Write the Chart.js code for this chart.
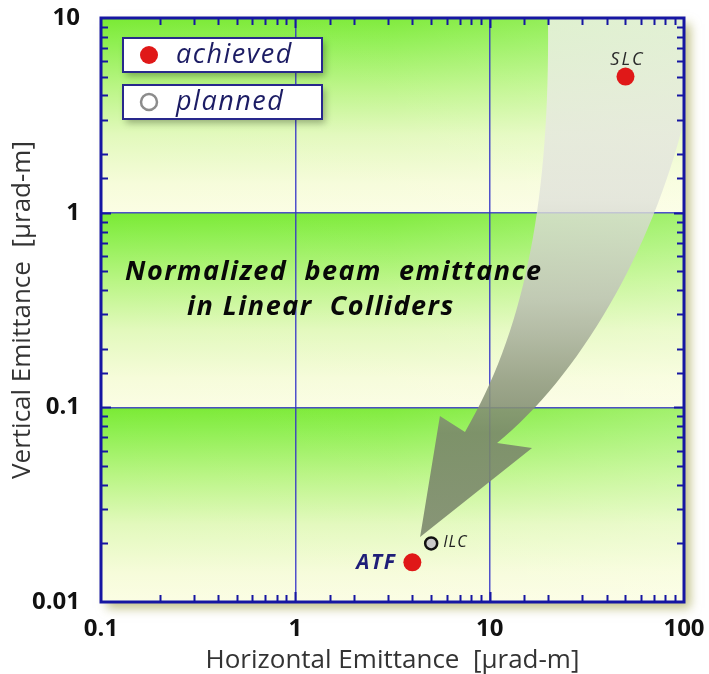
<!DOCTYPE html>
<html><head><meta charset="utf-8">
<script src="https://cdn.jsdelivr.net/npm/chart.js@4/dist/chart.umd.min.js"></script>
<style>html,body{margin:0;padding:0;background:#fff}canvas{display:block}</style>
</head><body>
<canvas id="c" width="709" height="674"></canvas>
<script>
// ---- data ----
const seriesNames = ['achieved', 'planned'];
const achievedNames = ['SLC', 'ATF'];
const achievedX = [50, 4];
const achievedY = [5, 0.016];
const plannedNames = ['ILC'];
const plannedX = [5];
const plannedY = [0.02];
const xTickValues = [0.1, 1, 10, 100];
const yTickValues = [0.01, 0.1, 1, 10];
const xTitle = 'Horizontal Emittance  [μrad-m]';
const yTitle = 'Vertical Emittance  [μrad-m]';
const titleLines = ['Normalized  beam  emittance', 'in Linear  Colliders'];
// decorative arrow outline, in decades (log10 of axis values)
const arrowLeftEdge = [[1.300, 1], [1.3105, 0.065], [1.182, -0.603], [0.873, -1.127]];
const arrowHead = [[0.744, -1.045], [0.642, -1.666], [1.218, -1.209], [1.038, -1.183]];
const arrowRightEdge = [[1.568, -0.757], [2.031, 0.168], [2.082, 1]];

const FONT = '"Open Sans", "Noto Sans", sans-serif';
const BLUE = '#1616a2';
function isDecade(v) { const l = Math.log10(v); return Math.abs(l - Math.round(l)) < 1e-6; }

const deco = {
  id: 'deco',
  beforeDraw(chart) {
    const { ctx, chartArea: a, scales: { y } } = chart;
    ctx.save();
    ctx.shadowColor = 'rgba(150,150,50,0.6)';
    ctx.shadowBlur = 10; ctx.shadowOffsetX = 6; ctx.shadowOffsetY = 6;
    ctx.fillStyle = '#fbfde4';
    ctx.fillRect(a.left, a.top, a.width, a.height);
    ctx.restore();
    ctx.save();
    for (let k = 0; k < yTickValues.length - 1; k++) {
      const yb = y.getPixelForValue(yTickValues[k]);
      const yt = y.getPixelForValue(yTickValues[k + 1]);
      const g = ctx.createLinearGradient(0, yt, 0, yb);
      g.addColorStop(0, 'rgb(122,234,52)');
      g.addColorStop(0.12, 'rgb(142,239,80)');
      g.addColorStop(0.35, 'rgb(185,245,132)');
      g.addColorStop(0.6, 'rgb(226,249,188)');
      g.addColorStop(0.85, 'rgb(246,252,218)');
      g.addColorStop(1, 'rgb(251,253,228)');
      ctx.fillStyle = g;
      ctx.fillRect(a.left, yt, a.width, yb - yt);
    }
    const h = ctx.createLinearGradient(a.left, 0, a.right, 0);
    h.addColorStop(0, 'rgba(255,255,240,0)');
    h.addColorStop(0.5, 'rgba(255,255,240,0.05)');
    h.addColorStop(1, 'rgba(255,255,240,0.3)');
    ctx.fillStyle = h;
    ctx.fillRect(a.left, a.top, a.width, a.height);
    ctx.restore();
  },
  beforeDatasetsDraw(chart) {
    const { ctx, chartArea: a, scales: { x, y } } = chart;
    const P = (p) => [x.getPixelForValue(Math.pow(10, p[0])), y.getPixelForValue(Math.pow(10, p[1]))];
    ctx.save();
    ctx.beginPath();
    ctx.rect(a.left, a.top, a.width, a.height);
    ctx.clip();
    const L = arrowLeftEdge.map(P), H = arrowHead.map(P), R = arrowRightEdge.map(P);
    ctx.beginPath();
    ctx.moveTo(L[0][0], L[0][1]);
    ctx.bezierCurveTo(L[1][0], L[1][1], L[2][0], L[2][1], L[3][0], L[3][1]);
    H.forEach(p => ctx.lineTo(p[0], p[1]));
    ctx.bezierCurveTo(R[0][0], R[0][1], R[1][0], R[1][1], R[2][0], R[2][1]);
    ctx.closePath();
    const tipY = H[1][1];
    const g = ctx.createLinearGradient(0, a.top, 0, tipY);
    g.addColorStop(0, 'rgba(240,241,234,0.82)');
    g.addColorStop(0.35, 'rgba(224,226,218,0.82)');
    g.addColorStop(0.54, 'rgba(190,194,182,0.85)');
    g.addColorStop(0.70, 'rgba(145,155,128,0.88)');
    g.addColorStop(0.80, 'rgba(122,136,106,0.9)');
    g.addColorStop(1, 'rgba(125,138,110,0.9)');
    ctx.fillStyle = g;
    ctx.fill();
    ctx.restore();

    ctx.save();
    ctx.fillStyle = '#080808';
    ctx.font = 'italic bold 27px ' + FONT;
    ctx.letterSpacing = '1.5px';
    ctx.textBaseline = 'alphabetic';
    ctx.textAlign = 'left';
    ctx.fillText(titleLines[0], a.left + 24, a.top + 262);
    ctx.fillText(titleLines[1], a.left + 86, a.top + 297);
    ctx.restore();
  },
  afterDatasetsDraw(chart) {
    const { ctx, chartArea: a } = chart;
    const m0 = chart.getDatasetMeta(0), m1 = chart.getDatasetMeta(1);
    ctx.save();
    // SLC
    let p = m0.data[0];
    ctx.font = 'italic 18px ' + FONT;
    ctx.fillStyle = '#2a2a2a';
    ctx.letterSpacing = '2px';
    ctx.textAlign = 'center'; ctx.textBaseline = 'alphabetic';
    ctx.fillText(achievedNames[0], p.x + 2, p.y - 12);
    // ATF
    p = m0.data[1];
    ctx.font = 'italic bold 21px ' + FONT;
    ctx.letterSpacing = '1.5px';
    ctx.fillStyle = '#1e1e78';
    ctx.textAlign = 'right';
    ctx.fillText(achievedNames[1], p.x - 16, p.y + 7);
    // ILC
    p = m1.data[0];
    ctx.font = 'italic 16px ' + FONT;
    ctx.letterSpacing = '1px';
    ctx.fillStyle = '#222';
    ctx.textAlign = 'left';
    ctx.fillText(plannedNames[0], p.x + 12, p.y + 4);
    ctx.restore();

    // legend boxes
    const bx = a.left + 22, bw = 199, bh = 34;
    const tops = [a.top + 20, a.top + 67];
    seriesNames.forEach((name, i) => {
      const t = tops[i];
      ctx.save();
      ctx.shadowColor = 'rgba(0,0,0,0.3)';
      ctx.shadowBlur = 7; ctx.shadowOffsetX = 3; ctx.shadowOffsetY = 4;
      ctx.fillStyle = '#fff';
      ctx.fillRect(bx, t, bw, bh);
      ctx.restore();
      ctx.save();
      ctx.strokeStyle = '#28288c'; ctx.lineWidth = 2;
      ctx.strokeRect(bx, t, bw, bh);
      ctx.beginPath();
      if (i === 0) {
        ctx.arc(bx + 26, t + 17, 9, 0, Math.PI * 2);
        ctx.fillStyle = chart.data.datasets[0].backgroundColor;
        ctx.fill();
      } else {
        ctx.arc(bx + 26, t + 17, 8, 0, Math.PI * 2);
        ctx.fillStyle = '#fff'; ctx.fill();
        ctx.strokeStyle = '#8c8c8c'; ctx.lineWidth = 2.5; ctx.stroke();
      }
      ctx.font = 'italic 27px ' + FONT;
      ctx.letterSpacing = '1.5px';
      ctx.fillStyle = '#1c1c64';
      ctx.textAlign = 'left'; ctx.textBaseline = 'alphabetic';
      ctx.fillText(name, bx + 53, t + 25);
      ctx.restore();
    });
  },
  afterDraw(chart) {
    const { ctx, chartArea: a, scales: { x, y } } = chart;
    ctx.save();
    ctx.strokeStyle = BLUE; ctx.lineWidth = 2;
    ctx.beginPath();
    x.ticks.forEach(t => {
      const v = t.value;
      if (v <= x.min * 1.0001 || v >= x.max * 0.9999) return;
      const px = Math.round(x.getPixelForValue(v)) + 0.5;
      const len = isDecade(v) ? 10 : 7;
      ctx.moveTo(px, a.bottom); ctx.lineTo(px, a.bottom - len);
      ctx.moveTo(px, a.top); ctx.lineTo(px, a.top + len);
    });
    y.ticks.forEach(t => {
      const v = t.value;
      if (v <= y.min * 1.0001 || v >= y.max * 0.9999) return;
      const py = Math.round(y.getPixelForValue(v)) + 0.5;
      const len = isDecade(v) ? 10 : 7;
      ctx.moveTo(a.left, py); ctx.lineTo(a.left + len, py);
      ctx.moveTo(a.right, py); ctx.lineTo(a.right - len, py);
    });
    ctx.stroke();
    ctx.lineWidth = 3;
    ctx.strokeRect(a.left, a.top, a.width, a.height);
    ctx.restore();
  }
};

const gridColor = (c) => (c.tick && isDecade(c.tick.value)) ? 'rgba(50,50,200,0.85)' : 'rgba(0,0,0,0)';
const tickLabel = (list) => (v) => {
  const hit = list.find(t => Math.abs(Math.log10(t) - Math.log10(v)) < 1e-6);
  return hit === undefined ? '' : String(hit);
};

new Chart(document.getElementById('c'), {
  type: 'scatter',
  data: {
    datasets: [
      {
        label: seriesNames[0],
        data: achievedX.map((v, i) => ({ x: v, y: achievedY[i] })),
        backgroundColor: '#e01818', borderWidth: 0, pointRadius: 9, pointHoverRadius: 9
      },
      {
        label: seriesNames[1],
        data: plannedX.map((v, i) => ({ x: v, y: plannedY[i] })),
        backgroundColor: '#cacaca', borderColor: '#111', borderWidth: 2.5, pointRadius: 6, pointHoverRadius: 6
      }
    ]
  },
  options: {
    responsive: false, animation: false, devicePixelRatio: 1,
    layout: { padding: { top: 18, right: 25, left: 0, bottom: 0 } },
    plugins: { legend: { display: false }, tooltip: { enabled: false } },
    scales: {
      x: {
        type: 'logarithmic', min: 0.1, max: 100, position: 'bottom',
        border: { display: false },
        grid: { color: gridColor, lineWidth: 1.5, drawTicks: false },
        ticks: { autoSkip: false, maxRotation: 0, padding: 13, color: '#111',
          font: { family: FONT, weight: 'bold', size: 24 }, callback: tickLabel(xTickValues) },
        title: { display: true, text: xTitle, color: '#333',
          font: { family: FONT, size: 26, lineHeight: 1.05 }, padding: { top: 0, bottom: 0 } },
        afterFit: (s) => { s.height = 72; s.paddingLeft = 0; s.paddingRight = 0; }
      },
      y: {
        type: 'logarithmic', min: 0.01, max: 10, position: 'left',
        border: { display: false },
        grid: { color: gridColor, lineWidth: 1.5, drawTicks: false },
        ticks: { autoSkip: false, padding: 21, color: '#111',
          font: { family: FONT, weight: 'bold', size: 24 }, callback: tickLabel(yTickValues) },
        title: { display: true, text: yTitle, color: '#333',
          font: { family: FONT, size: 26, lineHeight: 1.05 }, padding: { top: 9, bottom: 0 } },
        afterFit: (s) => { s.width = 101; s.paddingTop = 0; s.paddingBottom = 0; }
      }
    }
  },
  plugins: [deco]
});
</script>
</body></html>
